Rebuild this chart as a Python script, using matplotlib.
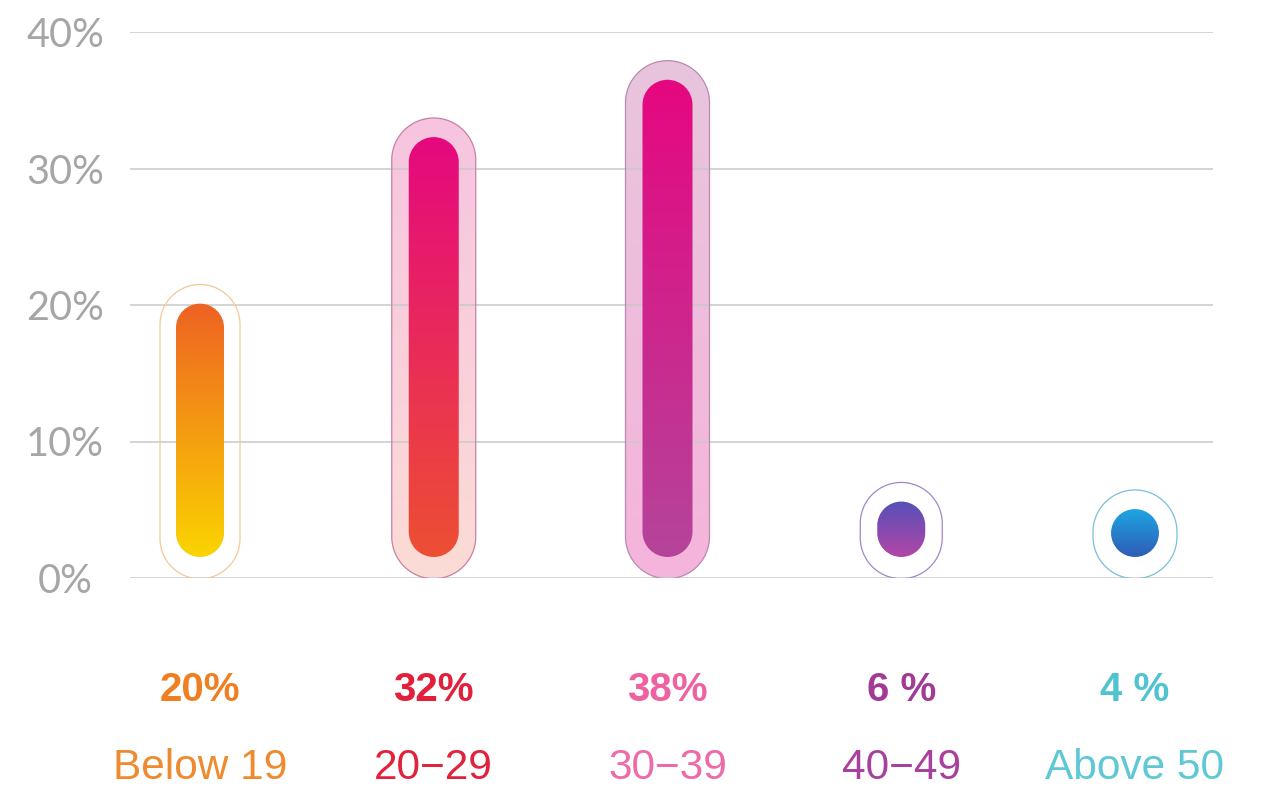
import numpy as np
import matplotlib.pyplot as plt
from matplotlib.patches import PathPatch
from matplotlib.path import Path
from matplotlib.colors import LinearSegmentedColormap
from matplotlib.transforms import IdentityTransform

# data
categories = ['Below 19', '20−29', '30−39', '40−49', 'Above 50']
values = [20, 32, 38, 6, 4]
bar_tops = [20.1, 32.3, 36.5, 5.6, 5.05]   # where the drawn capsules end
yticks = [0, 10, 20, 30, 40]

label_colors = ['#f07f22', '#e3203b', '#ee62a2', '#a23b96', '#4fc3cf']
cat_colors = ['#f08a2e', '#e2223c', '#ee6aa8', '#a8409e', '#5ec9d5']
# (bottom, top) gradient colours
bar_grad = [('#fbd400', '#ee6223'), ('#ed4f33', '#e5087f'), ('#b5449a', '#e6077f'),
            ('#b246a6', '#5650b8'), ('#2f5cb6', '#1ea5e2')]
halo_fill = [None, ('#fcdcd6', '#f6c4df'), ('#f6b4db', '#e8c5dd'), None, None]
halo_edge = ['#f5c896', '#c97fa6', '#b98aad', '#a486c8', '#78bfd9']

inner_w = [48, 50, 50, 48, 48]   # px
outer_w = [80, 84, 84, 82, 84]
inner_bottom = 1.54
halo_pad = 1.4

fig = plt.figure(figsize=(12.68, 7.89), dpi=100)
ax = fig.add_axes([130 / 1268, 1 - 578 / 789, (1213 - 130) / 1268, (578 - 32) / 789])
ax.set_autoscale_on(False)
ax.set_xlim(-0.2995, 4.3337)
ax.set_ylim(0, 40)
for s in ax.spines.values():
    s.set_visible(False)

for t in yticks:
    ax.axhline(t, color='#c9c9c9', lw=1.1, zorder=2)
ax.set_yticks(yticks, [f'{t}%' for t in yticks])
ax.tick_params(axis='y', length=0, pad=46.8, labelsize=28.5, labelcolor='#a6a6a6')
for lbl in ax.get_yticklabels():
    lbl.set_ha('center')
    lbl.set_family(['Lato', 'DejaVu Sans'])
ax.set_xticks([])


def capsule(x, y0, y1, w):
    p0 = ax.transData.transform((x, y0))
    p1 = ax.transData.transform((x, y1))
    h = p1[1] - p0[1]
    r = min(w, h) / 2
    top = Path.arc(0, 180)
    bot = Path.arc(180, 360)
    v_top = top.vertices * r + [p0[0], p1[1] - r]
    v_bot = bot.vertices * r + [p0[0], p0[1] + r]
    c_bot = bot.codes.copy()
    c_bot[0] = Path.LINETO
    verts = np.vstack([v_top, v_bot, v_top[:1]])
    codes = np.concatenate([top.codes, c_bot, [Path.CLOSEPOLY]])
    return PathPatch(Path(verts, codes), transform=IdentityTransform())


def gradient(x, y0, y1, cols, clip, z):
    cmap = LinearSegmentedColormap.from_list('g', cols)
    g = np.linspace(0, 1, 256).reshape(-1, 1)
    im = ax.imshow(g, extent=(x - 0.25, x + 0.25, y0, y1), origin='lower',
                   aspect='auto', cmap=cmap, zorder=z, interpolation='bilinear')
    im.set_clip_path(clip)


for i, top in enumerate(bar_tops):
    lo, hi = -0.05, top + halo_pad
    if halo_fill[i]:
        gradient(i, lo, hi, halo_fill[i], capsule(i, lo, hi, outer_w[i]), 1)
    edge = capsule(i, lo, hi, outer_w[i])
    edge.set_facecolor('none')
    edge.set_edgecolor(halo_edge[i])
    edge.set_linewidth(0.9)
    edge.set_zorder(3)
    ax.add_patch(edge)
    gradient(i, inner_bottom, top, bar_grad[i], capsule(i, inner_bottom, top, inner_w[i]), 4)

xt = ax.get_xaxis_transform()
for i, (v, c) in enumerate(zip(values, categories)):
    vtxt = f'{v}%' if v >= 10 else f'{v} %'
    ax.text(i, -0.205, vtxt, transform=xt, ha='center', va='center', fontsize=29,
            fontweight='bold', color=label_colors[i], family='Liberation Sans')
    ax.text(i, -0.348, c, transform=xt, ha='center', va='center', fontsize=30.5,
            color=cat_colors[i], family='Liberation Sans')

fig.savefig('out.png', dpi=100)
